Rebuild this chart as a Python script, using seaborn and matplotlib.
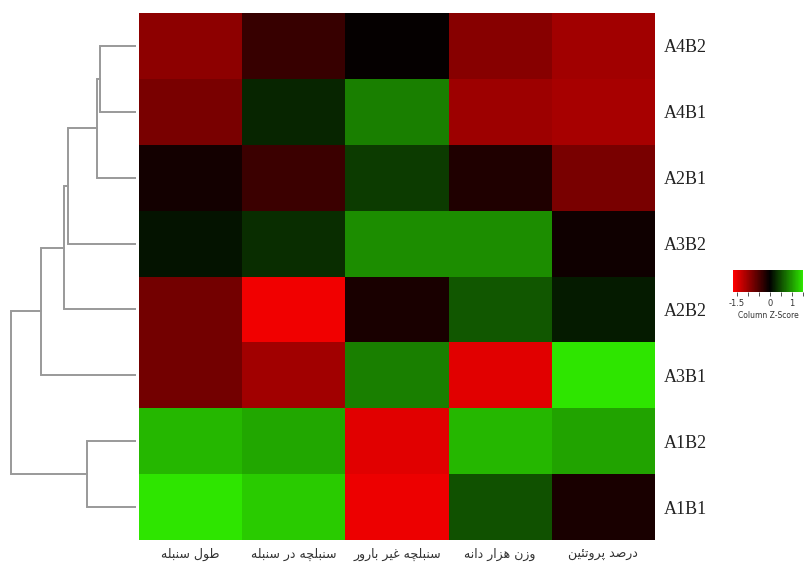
import numpy as np
import pandas as pd
import matplotlib
matplotlib.use("Agg")
import matplotlib.pyplot as plt
from matplotlib.colors import LinearSegmentedColormap
import seaborn as sns

# rows as shown top -> bottom
treatments = ["A4B2", "A4B1", "A2B1", "A3B2", "A2B2", "A3B1", "A1B2", "A1B1"]
traits = ["طول سنبله", "سنبلچه در سنبله", "سنبلچه غیر بارور", "وزن هزار دانه", "درصد پروتئین"]

# column z-scores
spike_length = [-0.92, -0.79, -0.13, 0.12, -0.75, -0.75, 1.18, 1.50]
spikelets = [-0.36, 0.24, -0.39, 0.29, -1.57, -1.05, 1.09, 1.32]
sterile_spikelets = [-0.03, 0.82, 0.38, 0.91, -0.16, 0.82, -1.47, -1.54]
grain_weight = [-0.88, -1.02, -0.20, 0.91, 0.56, -1.47, 1.18, 0.53]
protein = [-1.05, -1.08, -0.79, -0.10, 0.18, 1.50, 1.06, -0.16]

# row dendrogram: (child a, child b, height); leaves 0..7 follow `treatments`
row_merges = [
    (0, 1, 1.17),
    (8, 2, 1.27),
    (9, 3, 2.23),
    (10, 4, 2.35),
    (11, 5, 3.10),
    (6, 7, 1.60),
    (12, 13, 4.10),
]

# Arabic presentation forms: isolated, final, initial, medial
FORMS = {
    "ا": (0xFE8D, 0xFE8E, None, None),
    "ب": (0xFE8F, 0xFE90, 0xFE91, 0xFE92),
    "پ": (0xFB56, 0xFB57, 0xFB58, 0xFB59),
    "ت": (0xFE95, 0xFE96, 0xFE97, 0xFE98),
    "چ": (0xFB7A, 0xFB7B, 0xFB7C, 0xFB7D),
    "د": (0xFEA9, 0xFEAA, None, None),
    "ر": (0xFEAD, 0xFEAE, None, None),
    "ز": (0xFEAF, 0xFEB0, None, None),
    "س": (0xFEB1, 0xFEB2, 0xFEB3, 0xFEB4),
    "ص": (0xFEB9, 0xFEBA, 0xFEBB, 0xFEBC),
    "ط": (0xFEC1, 0xFEC2, 0xFEC3, 0xFEC4),
    "غ": (0xFECD, 0xFECE, 0xFECF, 0xFED0),
    "ل": (0xFEDD, 0xFEDE, 0xFEDF, 0xFEE0),
    "ن": (0xFEE5, 0xFEE6, 0xFEE7, 0xFEE8),
    "ه": (0xFEE9, 0xFEEA, 0xFEEB, 0xFEEC),
    "و": (0xFEED, 0xFEEE, None, None),
    "ئ": (0xFE89, 0xFE8A, 0xFE8B, 0xFE8C),
    "ی": (0xFBFC, 0xFBFD, 0xFBFE, 0xFBFF),
}


def shape_rtl(s):
    out = []
    for i, ch in enumerate(s):
        if ch not in FORMS:
            out.append(ch)
            continue
        prev = s[i - 1] if i > 0 else ""
        nxt = s[i + 1] if i + 1 < len(s) else ""
        iso, fin, ini, med = FORMS[ch]
        j_prev = prev in FORMS and FORMS[prev][2] is not None
        j_next = nxt in FORMS and ini is not None
        if j_prev and j_next:
            g = med
        elif j_prev:
            g = fin
        elif j_next:
            g = ini
        else:
            g = iso
        out.append(chr(g))
    return "".join(reversed(out))


df = pd.DataFrame(
    {"c1": spike_length, "c2": spikelets, "c3": sterile_spikelets,
     "c4": grain_weight, "c5": protein},
    index=treatments,
)

cmap = LinearSegmentedColormap.from_list("redgreen", ["#ff0000", "#000000", "#33ff00"])

W, H = 807, 574
fig = plt.figure(figsize=(W / 100, H / 100), dpi=100)
ax = fig.add_axes([139 / W, 34 / H, 516 / W, 527 / H])
cax = fig.add_axes([733 / W, 282 / H, 70 / W, 22 / H])
dax = fig.add_axes([8 / W, 34 / H, 128 / W, 527 / H])

sns.heatmap(df, ax=ax, cmap=cmap, vmin=-1.67, vmax=1.5, center=0,
            cbar_ax=cax, cbar_kws={"orientation": "horizontal"},
            xticklabels=[shape_rtl(t) for t in traits], yticklabels=treatments)

ax.tick_params(axis="y", left=False, right=True, labelleft=False, labelright=True,
               length=0, pad=6)
ax.tick_params(axis="x", length=0, pad=6)
for lab in ax.get_yticklabels():
    lab.set_rotation(0)
    lab.set_family(["Liberation Serif"])
    lab.set_fontsize(13)
    lab.set_color("#222222")
for lab in ax.get_xticklabels():
    lab.set_rotation(0)
    lab.set_family(["DejaVu Sans"])
    lab.set_fontsize(9)
    lab.set_color("#333333")

# color key
cb = ax.collections[0].colorbar
cb.outline.set_visible(False)
cb.set_ticks([-1.5, -1, -0.5, 0, 0.5, 1, 1.5])
cb.set_ticklabels(["-1.5", "", "", "0", "", "1", ""])
cax.tick_params(axis="x", length=3, width=0.6, pad=2, labelsize=6, colors="#333333")
cax.set_xlabel("Column Z-Score", fontsize=5.5, labelpad=2, color="#333333")

# row dendrogram
pos = {i: (i + 0.5, 0.0) for i in range(len(treatments))}
for k, (a, b, h) in enumerate(row_merges):
    ya, ha = pos[a]
    yb, hb = pos[b]
    dax.plot([ha, h, h, hb], [ya, ya, yb, yb], color="#999999", lw=1.4,
             solid_joinstyle="miter")
    pos[len(treatments) + k] = ((ya + yb) / 2, h)
dax.set_xlim(4.1 * 1.02, 0)
dax.set_ylim(ax.get_ylim())
dax.axis("off")

fig.savefig("out.png", dpi=100, facecolor="white")
